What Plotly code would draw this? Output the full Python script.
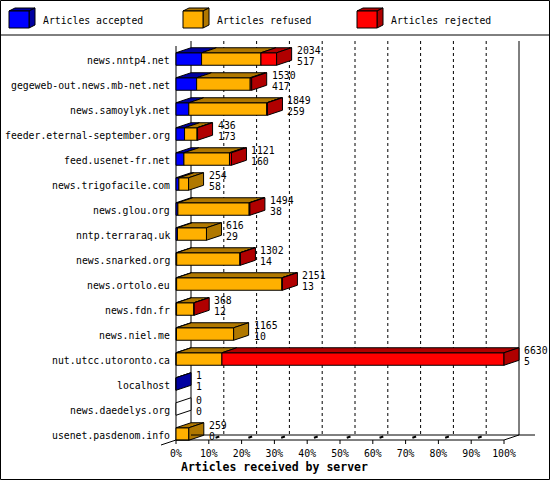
import plotly.graph_objects as go

# servers and article counts
servers = [
    "news.nntp4.net", "gegeweb-out.news.mb-net.net", "news.samoylyk.net",
    "feeder.eternal-september.org", "feed.usenet-fr.net", "news.trigofacile.com",
    "news.glou.org", "nntp.terraraq.uk", "news.snarked.org", "news.ortolo.eu",
    "news.fdn.fr", "news.niel.me", "nut.utcc.utoronto.ca", "localhost",
    "news.daedelys.org", "usenet.pasdenom.info",
]
received = [2034, 1530, 1849, 436, 1121, 254, 1494, 616, 1302, 2151, 368, 1165, 6630, 1, 0, 259]
accepted = [517, 417, 259, 173, 160, 58, 38, 29, 14, 13, 12, 10, 5, 1, 0, 0]
refused = [1200, 1083, 1575, 253, 921, 196, 1441, 587, 1278, 2128, 350, 1155, 923, 0, 0, 259]
rejected = [317, 30, 15, 10, 40, 0, 15, 0, 10, 10, 6, 0, 5702, 0, 0, 0]
pct_ticks = [0, 10, 20, 30, 40, 50, 60, 70, 80, 90, 100]
legend_names = ["Articles accepted", "Articles refused", "Articles rejected"]

FACE = ["#0000ff", "#ffb000", "#ff0000"]
SHADE = ["#0000a0", "#b07800", "#b00000"]
FONT = "DejaVu Sans Mono"

# pixel layout of the picture
W, H = 550, 480
LEFT, RIGHT, TOP, BOTTOM = 150, 546, 40, 446
X0_PX, FULL_PX = 176, 328      # front plane: 0% and width of 100%
ROW0_PX, ROW_PX = 59, 25       # first row centre, row pitch
DEPTH_X, DEPTH_Y = 15, 5       # 3d offset in px

full = max(received)
per_px = full / FULL_PX
DX = DEPTH_X * per_px
DY = DEPTH_Y / ROW_PX
HALF = 0.25


def yrow(p):
    return (p - ROW0_PX) / ROW_PX


def xpx(p):
    return (p - X0_PX) * per_px


def paper_x(p):
    return (p - LEFT) / (RIGHT - LEFT)


def paper_y(p):
    return (BOTTOM - p) / (BOTTOM - TOP)


rows = list(range(len(servers)))
series = [accepted, refused, rejected]

fig = go.Figure()

# front faces
for k, vals in enumerate(series):
    base = [sum(s[r] for s in series[:k]) for r in rows]
    fig.add_trace(go.Bar(
        y=rows, x=[v if v > 0 else None for v in vals], base=base,
        orientation="h", width=2 * HALF,
        marker=dict(color=FACE[k], line=dict(color="black", width=1)),
        showlegend=False, hoverinfo="skip",
    ))

# top faces
for k, vals in enumerate(series):
    xs, ys = [], []
    for r in rows:
        v = vals[r]
        if v <= 0:
            continue
        b = sum(s[r] for s in series[:k])
        yt = r - HALF
        xs += [b, b + v, b + v + DX, b + DX, b, None]
        ys += [yt, yt, yt - DY, yt - DY, yt, None]
    if xs:
        fig.add_trace(go.Scatter(
            x=xs, y=ys, mode="lines", fill="toself", fillcolor=SHADE[k],
            line=dict(color="black", width=1), showlegend=False, hoverinfo="skip",
        ))

# side faces (colour of last non-empty segment)
sides = {}
for r in rows:
    col = "white"
    for k, vals in enumerate(series):
        if vals[r] > 0:
            col = SHADE[k]
    e = received[r]
    xs, ys = sides.setdefault(col, ([], []))
    xs += [e, e + DX, e + DX, e, e, None]
    ys += [r - HALF, r - HALF - DY, r + HALF - DY, r + HALF, r - HALF, None]
for col, (xs, ys) in sides.items():
    fig.add_trace(go.Scatter(
        x=xs, y=ys, mode="lines", fill="toself", fillcolor=col,
        line=dict(color="black", width=1), showlegend=False, hoverinfo="skip",
    ))

# the box: walls, floor, grid
back_top, back_floor = yrow(41), yrow(435)
front_top, front_floor = yrow(46), yrow(440)
shapes = []
line = dict(color="black", width=1)
for p in pct_ticks[1:-1]:
    gx = full * p / 100 + DX
    shapes.append(dict(type="line", x0=gx, x1=gx, y0=back_top, y1=back_floor,
                       line=dict(color="black", width=1, dash="3px,3px"), layer="below"))
for gx in (DX, full + DX):
    shapes.append(dict(type="line", x0=gx, x1=gx, y0=back_top, y1=back_floor, line=line, layer="below"))
shapes.append(dict(type="line", x0=0, x1=0, y0=front_top, y1=front_floor, line=line, layer="below"))
shapes.append(dict(type="line", x0=0, x1=full, y0=front_floor, y1=front_floor, line=line))
shapes.append(dict(type="line", x0=DX, x1=xpx(535), y0=back_floor, y1=back_floor, line=line))
shapes.append(dict(type="line", x0=full, x1=full + DX, y0=front_floor, y1=back_floor, line=line))
shapes.append(dict(type="line", x0=-DX, x1=0, y0=front_floor + DY, y1=front_floor, line=line))
for p in pct_ticks:
    tx = full * p / 100
    shapes.append(dict(type="line", x0=tx, x1=tx, y0=front_floor, y1=front_floor + 4 / ROW_PX, line=line))
    if 0 < p < 100:
        shapes.append(dict(type="line", x0=tx + 0.45 * DX, x1=tx + 0.7 * DX,
                           y0=front_floor - 0.45 * DY, y1=front_floor - 0.7 * DY,
                           line=dict(color="black", width=2)))

# legend: 3d cubes, separator and frame
legend_px = [9, 183, 357]
for k, lx in enumerate(legend_px):
    x0, x1, xb = paper_x(lx), paper_x(lx + 20), paper_x(lx + 26)
    y0, y1, yb = paper_y(28), paper_y(11), paper_y(8)
    shapes.append(dict(type="path", xref="paper", yref="paper",
                       path=f"M{x0},{y1} L{x1},{y1} L{xb},{yb} L{paper_x(lx + 6)},{yb} Z",
                       fillcolor=SHADE[k], line=line))
    shapes.append(dict(type="path", xref="paper", yref="paper",
                       path=f"M{x1},{y1} L{xb},{yb} L{xb},{paper_y(25)} L{x1},{y0} Z",
                       fillcolor=SHADE[k], line=line))
    shapes.append(dict(type="rect", xref="paper", yref="paper",
                       x0=x0, x1=x1, y0=y0, y1=y1, fillcolor=FACE[k], line=line))
shapes.append(dict(type="line", xref="paper", yref="paper", x0=paper_x(0), x1=paper_x(W),
                   y0=paper_y(35), y1=paper_y(35), line=line))
shapes.append(dict(type="rect", xref="paper", yref="paper", x0=paper_x(0.5), x1=paper_x(W - 0.5),
                   y0=paper_y(0.5), y1=paper_y(H - 0.5), line=line))

annotations = []
for k, name in enumerate(legend_names):
    annotations.append(dict(x=paper_x(legend_px[k] + 32), y=paper_y(20), xref="paper", yref="paper",
                            text=name, showarrow=False, xanchor="left", yanchor="middle"))
for r in rows:
    annotations.append(dict(x=0, y=r, text=servers[r], showarrow=False,
                            xanchor="right", yanchor="middle", xshift=-4, yshift=-1))
    vx = received[r] + DX
    annotations.append(dict(x=vx, y=r, text=str(received[r]), showarrow=False,
                            xanchor="left", yanchor="middle", xshift=3, yshift=9))
    annotations.append(dict(x=vx, y=r, text=str(accepted[r]), showarrow=False,
                            xanchor="left", yanchor="middle", xshift=3, yshift=-2))
annotations.append(dict(x=0, y=0, xref="x", yref="paper", text="<b>Articles received by server</b>",
                        showarrow=False, xanchor="left", yanchor="middle", xshift=3, yshift=-21,
                        font=dict(size=11.5)))

fig.update_layout(
    width=W, height=H,
    margin=dict(l=LEFT, r=W - RIGHT, t=TOP, b=H - BOTTOM, pad=0),
    paper_bgcolor="white", plot_bgcolor="white",
    font=dict(family=FONT, size=9.8, color="black"),
    barmode="overlay",
    shapes=shapes, annotations=annotations,
    xaxis=dict(range=[xpx(LEFT), xpx(RIGHT)], showgrid=False, zeroline=False, showline=False,
               tickvals=[full * p / 100 for p in pct_ticks], ticktext=[f"{p}%" for p in pct_ticks],
               ticks="", tickfont=dict(size=9.8), fixedrange=True),
    yaxis=dict(range=[yrow(BOTTOM), yrow(TOP)], showgrid=False, zeroline=False, showline=False,
               showticklabels=False, fixedrange=True),
)

# the page's default body margin would shift the chart
fig.write_html("out.html", config={"displayModeBar": False},
               post_script="document.body.style.margin='0px';")
